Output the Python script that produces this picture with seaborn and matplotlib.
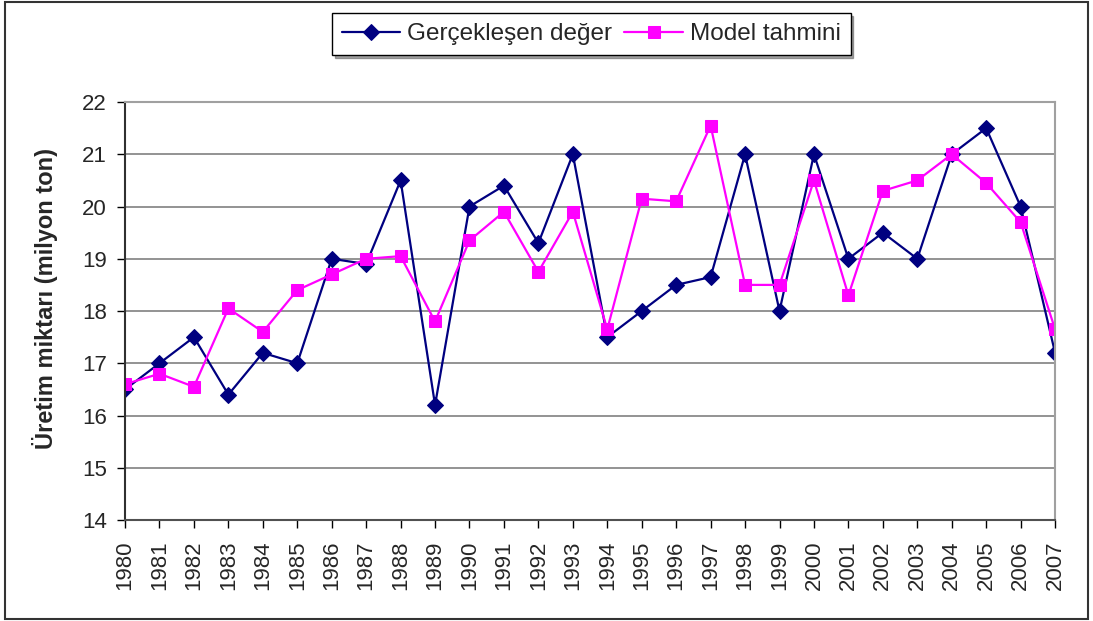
import pandas as pd
import matplotlib.pyplot as plt
import matplotlib.patches as patches
import seaborn as sns

# Yillar ve degerler
yillar = list(range(1980, 2008))
gerceklesen = [16.5, 17.0, 17.5, 16.4, 17.2, 17.0, 19.0, 18.9, 20.5, 16.2,
               20.0, 20.4, 19.3, 21.0, 17.5, 18.0, 18.5, 18.65, 21.0, 18.0,
               21.0, 19.0, 19.5, 19.0, 21.0, 21.5, 20.0, 17.2]
tahmin = [16.6, 16.8, 16.55, 18.05, 17.6, 18.4, 18.7, 19.0, 19.05, 17.8,
          19.35, 19.9, 18.75, 19.9, 17.65, 20.15, 20.1, 21.55, 18.5, 18.5,
          20.5, 18.3, 20.3, 20.5, 21.0, 20.45, 19.7, 17.65]

df = pd.DataFrame({'Yil': yillar, 'Gerçekleşen değer': gerceklesen, 'Model tahmini': tahmin})

sns.set_style("white")
plt.rcParams['font.family'] = ['Liberation Sans', 'DejaVu Sans']

fig = plt.figure(figsize=(10.93, 6.21), dpi=100)
ax = fig.add_axes([0.1144, 0.1626, 0.8509, 0.6731])

sns.lineplot(data=df, x='Yil', y='Gerçekleşen değer', ax=ax, color='#000080',
             marker='D', markersize=8.5, markeredgecolor='#000080', linewidth=1.6,
             label='Gerçekleşen değer')
sns.lineplot(data=df, x='Yil', y='Model tahmini', ax=ax, color='#FF00FF',
             marker='s', markersize=8.5, markeredgecolor='#FF00FF', linewidth=1.6,
             label='Model tahmini')

ax.set_xlim(1980, 2007)
ax.set_ylim(14, 22)
ax.set_xticks(yillar)
ax.set_xticklabels([str(y) for y in yillar], rotation=90, fontsize=16)
ax.set_yticks(range(14, 23))
ax.tick_params(axis='y', labelsize=16, length=6, width=1, color='black', direction='out', left=True, pad=7)
ax.tick_params(axis='x', length=6, width=1, color='black', direction='out', bottom=True, pad=9)
ax.yaxis.grid(True, color='#808080', linewidth=1.2)
ax.set_xlabel('')
ax.set_ylabel('Üretim miktarı (milyon ton)', fontsize=17, fontweight='bold')
ax.yaxis.set_label_coords(-0.072, 0.53)

for side in ['top', 'right']:
    ax.spines[side].set_color('#a0a0a0')
    ax.spines[side].set_linewidth(1.5)
ax.spines['bottom'].set_color('#505050')
ax.spines['bottom'].set_linewidth(1.5)
ax.spines['left'].set_color('#303030')
ax.spines['left'].set_linewidth(1.5)

handles, labels = ax.get_legend_handles_labels()
leg = fig.legend(handles=handles, labels=labels,
                 loc='center', bbox_to_anchor=(0.541, 0.945), ncol=2, fontsize=17.5,
                 frameon=True, fancybox=False, edgecolor='black', shadow=True,
                 handlelength=2.4, columnspacing=0.5, handletextpad=0.3, borderpad=0.4)
leg.get_frame().set_linewidth(1.0)
ax.get_legend().remove()

# dis cerceve
fig.patches.append(patches.Rectangle((0.005, 0.003), 0.99, 0.993, transform=fig.transFigure,
                                     fill=False, edgecolor='#333333', linewidth=1.5))

fig.savefig('out.png', dpi=100)
